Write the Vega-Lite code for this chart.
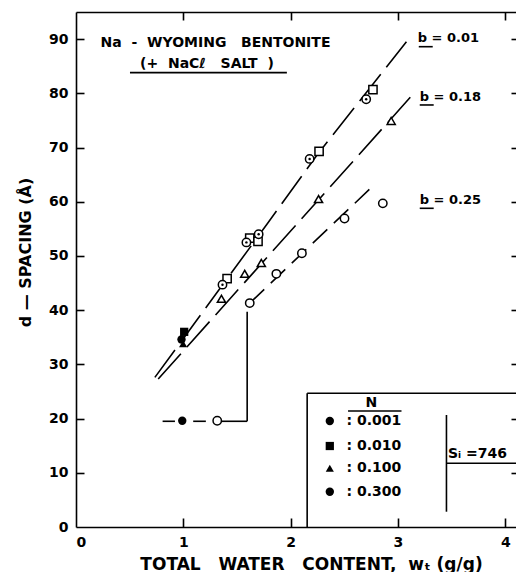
{
  "$schema": "https://vega.github.io/schema/vega-lite/v6.json",
  "width": 440,
  "height": 515,
  "autosize": {"type": "none"},
  "padding": {"left": 76, "top": 12, "right": 0, "bottom": 45},
  "background": "white",
  "config": {
    "view": {"stroke": null},
    "axis": {
      "grid": false,
      "domainColor": "black",
      "tickColor": "black",
      "labelColor": "black",
      "titleColor": "black",
      "labelFont": "DejaVu Sans",
      "titleFont": "DejaVu Sans",
      "labelFontSize": 14,
      "labelFontWeight": "bold",
      "titleFontSize": 17,
      "titleFontWeight": "bold",
      "domainWidth": 1.6,
      "tickWidth": 1.6
    },
    "text": {"font": "DejaVu Sans", "fontSize": 14, "color": "black", "fontWeight": "bold"}
  },
  "datasets": {
    "lines": [
      {"line": "b001", "x": 0.735, "y": 27.6},
      {"line": "b001", "x": 1.774, "y": 55.7},
      {"line": "b001", "x": 2.241, "y": 68.5},
      {"line": "b001", "x": 3.079, "y": 89.5},
      {"line": "b018", "x": 0.766, "y": 27.3},
      {"line": "b018", "x": 3.153, "y": 80.1},
      {"line": "b025", "x": 1.619, "y": 41.3},
      {"line": "b025", "x": 2.735, "y": 62.3}
    ],
    "segments": [
      {"x": 1.316, "y": 19.5, "x2": 1.595, "y2": 19.5},
      {"x": 1.595, "y": 19.5, "x2": 1.595, "y2": 39.7},
      {"x": 0.807, "y": 19.5, "x2": 0.922, "y2": 19.5},
      {"x": 1.092, "y": 19.5, "x2": 1.21, "y2": 19.5},
      {"x": 0.503, "y": 83.81, "x2": 1.965, "y2": 83.81},
      {"x": 3.194, "y": 88.6, "x2": 3.324, "y2": 88.6},
      {"x": 3.203, "y": 77.85, "x2": 3.333, "y2": 77.85},
      {"x": 3.203, "y": 58.79, "x2": 3.333, "y2": 58.79},
      {"x": 2.154, "y": 24.66, "x2": 4.1, "y2": 24.66},
      {"x": 2.154, "y": 0, "x2": 2.154, "y2": 24.66},
      {"x": 2.535, "y": 21.4, "x2": 3.033, "y2": 21.4},
      {"x": 3.452, "y": 2.82, "x2": 3.452, "y2": 20.66},
      {"x": 3.452, "y": 11.75, "x2": 4.1, "y2": 11.75}
    ],
    "open": [
      {"shape": "square", "x": 1.408, "y": 45.8},
      {"shape": "square", "x": 1.619, "y": 53.3},
      {"shape": "square", "x": 1.696, "y": 52.7},
      {"shape": "square", "x": 2.265, "y": 69.3},
      {"shape": "square", "x": 2.767, "y": 80.7},
      {"shape": "triangle", "x": 1.355, "y": 42.1},
      {"shape": "triangle", "x": 1.572, "y": 46.7},
      {"shape": "triangle", "x": 1.727, "y": 48.7},
      {"shape": "triangle", "x": 2.26, "y": 60.5},
      {"shape": "triangle", "x": 2.937, "y": 74.9},
      {"shape": "circle", "x": 1.619, "y": 41.3},
      {"shape": "circle", "x": 1.867, "y": 46.7},
      {"shape": "circle", "x": 2.105, "y": 50.5},
      {"shape": "circle", "x": 2.502, "y": 56.9},
      {"shape": "circle", "x": 2.859, "y": 59.7},
      {"shape": "circle", "x": 1.316, "y": 19.6}
    ],
    "dotted": [
      {"x": 1.365, "y": 44.7},
      {"x": 1.588, "y": 52.5},
      {"x": 1.702, "y": 54.0},
      {"x": 2.177, "y": 67.9},
      {"x": 2.704, "y": 78.9}
    ],
    "filled": [
      {"shape": "square", "x": 1.008, "y": 36.0},
      {"shape": "circle", "x": 0.983, "y": 34.6},
      {"shape": "triangle", "x": 0.998, "y": 33.8},
      {"shape": "circle", "x": 0.99, "y": 19.6},
      {"shape": "circle", "x": 2.365, "y": 19.55},
      {"shape": "square", "x": 2.365, "y": 14.94},
      {"shape": "triangle", "x": 2.365, "y": 10.83},
      {"shape": "circle", "x": 2.365, "y": 6.51}
    ],
    "textsB": [
      {"x": 3.184, "y": 90.15, "text": "b = 0.01"},
      {"x": 3.203, "y": 79.4, "text": "b = 0.18"},
      {"x": 3.203, "y": 60.3, "text": "b = 0.25"}
    ],
    "textsLeft": [
      {"x": 2.52, "y": 19.55, "text": ": 0.001"},
      {"x": 2.52, "y": 14.94, "text": ": 0.010"},
      {"x": 2.52, "y": 10.83, "text": ": 0.100"},
      {"x": 2.52, "y": 6.51, "text": ": 0.300"},
      {"x": 3.466, "y": 13.4, "text": "Sᵢ =746"}
    ],
    "textsCenter": [
      {"x": 1.3, "y": 89.2, "text": "Na\u00a0\u00a0-\u00a0\u00a0WYOMING\u00a0\u00a0\u00a0BENTONITE"},
      {"x": 1.22, "y": 85.5, "text": "(+\u00a0\u00a0NaCℓ\u00a0\u00a0\u00a0SALT\u00a0\u00a0)"},
      {"x": 2.753, "y": 22.8, "text": "N"}
    ]
  },
  "encoding": {
    "x": {"field": "x", "type": "quantitative", "scale": {"domain": [0, 4.1], "nice": false, "zero": false}, "axis": null},
    "y": {"field": "y", "type": "quantitative", "scale": {"domain": [0, 95], "nice": false, "zero": false}, "axis": null}
  },
  "layer": [
    {
      "data": {"name": "lines"},
      "transform": [{"filter": "datum.line !== 'b025'"}],
      "mark": {"type": "line", "color": "black", "strokeWidth": 1.6, "strokeDash": [34, 9]},
      "encoding": {
        "x": {"field": "x", "type": "quantitative", "scale": {"domain": [0, 4.1], "nice": false, "zero": false},
          "axis": {"orient": "bottom", "values": [0, 1, 2, 3, 4], "format": "d", "ticks": false, "tickSize": 0, "labelPadding": 8,
            "title": "TOTAL\u00a0\u00a0\u00a0WATER\u00a0\u00a0\u00a0CONTENT,\u00a0\u00a0wₜ\u00a0(g/g)", "titleX": 235, "titleY": 42, "titleAlign": "center", "titleBaseline": "alphabetic", "titleAnchor": null}},
        "y": {"field": "y", "type": "quantitative", "scale": {"domain": [0, 95], "nice": false, "zero": false},
          "axis": {"orient": "left", "values": [0, 10, 20, 30, 40, 50, 60, 70, 80, 90], "format": "d", "ticks": false, "tickSize": 0, "labelPadding": 8,
            "title": "d — SPACING (Å)", "titleFontSize": 16, "titleX": -51, "titleY": 240, "titleAngle": -90, "titleAlign": "center", "titleBaseline": "middle", "titleAnchor": null}},
        "detail": {"field": "line"}
      }
    },
    {
      "data": {"name": "lines"},
      "transform": [{"filter": "datum.line === 'b025'"}],
      "mark": {"type": "line", "color": "black", "strokeWidth": 1.6, "strokeDash": [20, 9]},
      "encoding": {
        "x": {"field": "x", "type": "quantitative", "scale": {"domain": [0, 4.1], "nice": false, "zero": false},
          "axis": {"orient": "top", "values": [1, 2, 3, 4], "labels": false, "domain": false, "ticks": true, "tickSize": 8, "offset": -8, "title": null}},
        "y": {"field": "y", "type": "quantitative", "scale": {"domain": [0, 95], "nice": false, "zero": false},
          "axis": {"orient": "right", "values": [10, 20, 30, 40, 50, 60, 70, 80, 90], "labels": false, "domain": false, "ticks": true, "tickSize": 5, "offset": -5, "title": null}}
      }
    },
    {
      "data": {"name": "segments"},
      "mark": {"type": "rule", "color": "black", "strokeWidth": 1.6},
      "encoding": {
        "x": {"field": "x", "type": "quantitative", "scale": {"domain": [0, 4.1], "nice": false, "zero": false},
          "axis": {"orient": "bottom", "values": [1, 2, 3, 4], "labels": false, "domain": false, "ticks": true, "tickSize": 9, "offset": -9, "title": null}},
        "y": {"field": "y", "type": "quantitative", "scale": {"domain": [0, 95], "nice": false, "zero": false},
          "axis": {"orient": "left", "values": [10, 20, 30, 40, 50, 60, 70, 80, 90], "labels": false, "domain": false, "ticks": true, "tickSize": 8, "offset": -8, "title": null}},
        "x2": {"field": "x2"},
        "y2": {"field": "y2"}
      }
    },
    {
      "data": {"name": "open"},
      "mark": {"type": "point", "filled": true, "fill": "white", "stroke": "black", "strokeWidth": 1.5, "opacity": 1},
      "encoding": {
        "x": {"field": "x", "type": "quantitative", "scale": {"domain": [0, 4.1], "nice": false, "zero": false},
          "axis": {"orient": "top", "labels": false, "ticks": false, "domain": true, "title": null, "values": []}},
        "shape": {"field": "shape", "type": "nominal", "scale": {"domain": ["circle", "square", "triangle"], "range": ["circle", "square", "triangle-up"]}, "legend": null},
        "size": {"field": "shape", "type": "nominal", "scale": {"domain": ["circle", "square", "triangle"], "range": [70, 66, 120]}, "legend": null}
      }
    },
    {
      "data": {"name": "dotted"},
      "mark": {"type": "point", "shape": "circle", "filled": true, "fill": "white", "stroke": "black", "strokeWidth": 1.5, "opacity": 1, "size": 70},
      "encoding": {}
    },
    {
      "data": {"name": "dotted"},
      "mark": {"type": "point", "shape": "circle", "filled": true, "color": "black", "opacity": 1, "size": 6},
      "encoding": {}
    },
    {
      "data": {"name": "filled"},
      "mark": {"type": "point", "filled": true, "color": "black", "opacity": 1},
      "encoding": {
        "shape": {"field": "shape", "type": "nominal", "scale": {"domain": ["circle", "square", "triangle"], "range": ["circle", "square", "triangle-up"]}, "legend": null},
        "size": {"field": "shape", "type": "nominal", "scale": {"domain": ["circle", "square", "triangle"], "range": [70, 66, 120]}, "legend": null}
      }
    },
    {
      "data": {"name": "textsB"},
      "mark": {"type": "text", "align": "left", "baseline": "middle", "fontSize": 13},
      "encoding": {"text": {"field": "text"}}
    },
    {
      "data": {"name": "textsLeft"},
      "mark": {"type": "text", "align": "left", "baseline": "middle", "fontSize": 14},
      "encoding": {"text": {"field": "text"}}
    },
    {
      "data": {"name": "textsCenter"},
      "mark": {"type": "text", "align": "center", "baseline": "middle", "fontSize": 14},
      "encoding": {"text": {"field": "text"}}
    }
  ],
  "resolve": {"axis": {"x": "independent", "y": "independent"}}
}
